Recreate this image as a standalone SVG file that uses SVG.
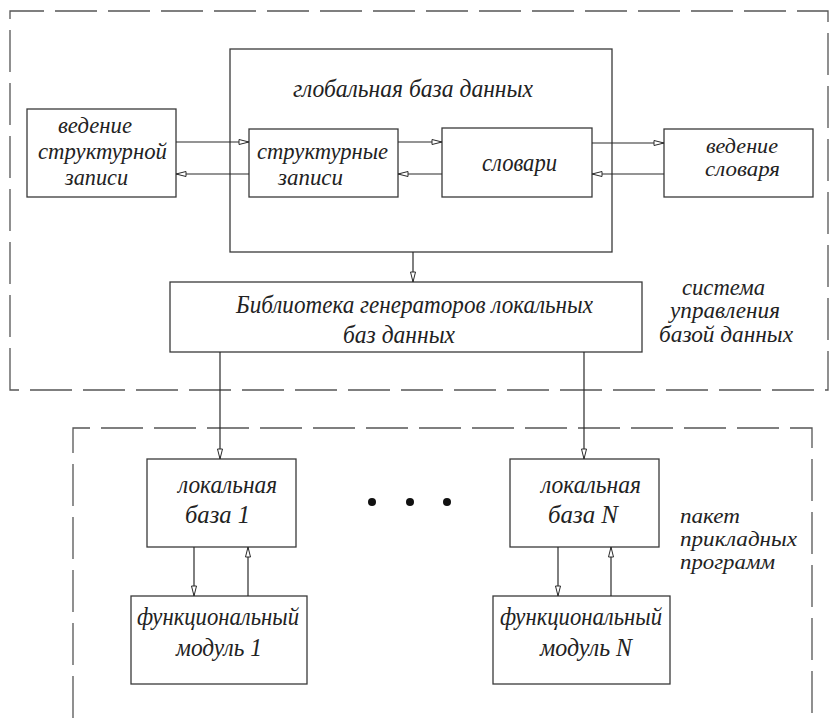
<svg xmlns="http://www.w3.org/2000/svg" width="831" height="718" viewBox="0 0 831 718">
<style>
.box{fill:none;stroke:#3a3a3a;stroke-width:1.3}
.dash{fill:none;stroke:#555;stroke-width:1.3;stroke-dasharray:42 11}
.ln{fill:none;stroke:#2a2a2a;stroke-width:1.2}
text{font-family:"Liberation Serif","DejaVu Serif",serif;font-style:italic;font-size:23px;fill:#222}
.lg{font-size:25px}
.sm{font-size:21px}
</style>
<defs>
<marker id="ah" markerUnits="userSpaceOnUse" markerWidth="14" markerHeight="10" refX="11" refY="5" orient="auto">
<path d="M1,2.5 L11,5 L1,7.5 Z" fill="#fff" stroke="#2a2a2a" stroke-width="1"/>
</marker>
</defs>
<rect width="831" height="718" fill="#fff"/>
<g id="frame-dbms">
<path class="dash" d="M10,390 L10,11 L828,11 L828,390 Z"/>
<text x="682" y="295" textLength="83" lengthAdjust="spacingAndGlyphs">система</text>
<text x="670" y="318" textLength="110" lengthAdjust="spacingAndGlyphs">управления</text>
<text x="659" y="342" textLength="134" lengthAdjust="spacingAndGlyphs">базой данных</text>
</g>
<g id="frame-apps">
<path class="dash" d="M73,718 L73,428 L812,428 L812,718"/>
<text class="sm" x="680" y="523" textLength="60" lengthAdjust="spacingAndGlyphs">пакет</text>
<text class="sm" x="680" y="546" textLength="117" lengthAdjust="spacingAndGlyphs">прикладных</text>
<text class="sm" x="680" y="569" textLength="95" lengthAdjust="spacingAndGlyphs">программ</text>
</g>
<g id="global-db">
<rect class="box" x="230" y="49" width="382" height="203"/>
<text class="lg" x="293" y="97" textLength="240" lengthAdjust="spacingAndGlyphs">глобальная база данных</text>
</g>
<g id="struct-maint">
<rect class="box" x="27" y="109" width="149" height="88"/>
<text x="58" y="133" textLength="74" lengthAdjust="spacingAndGlyphs">ведение</text>
<text x="38" y="159" textLength="129" lengthAdjust="spacingAndGlyphs">структурной</text>
<text x="65" y="185" textLength="63" lengthAdjust="spacingAndGlyphs">записи</text>
</g>
<g id="struct-records">
<rect class="box" x="249" y="129" width="149" height="68"/>
<text x="257" y="159" textLength="131" lengthAdjust="spacingAndGlyphs">структурные</text>
<text x="278" y="185" textLength="65" lengthAdjust="spacingAndGlyphs">записи</text>
</g>
<g id="dictionaries">
<rect class="box" x="442" y="128" width="150" height="69"/>
<text class="lg" x="482" y="171" textLength="75" lengthAdjust="spacingAndGlyphs">словари</text>
</g>
<g id="dict-maint">
<rect class="box" x="664" y="129" width="149" height="68"/>
<text class="sm" x="706" y="153" textLength="72" lengthAdjust="spacingAndGlyphs">ведение</text>
<text class="sm" x="705" y="176" textLength="75" lengthAdjust="spacingAndGlyphs">словаря</text>
</g>
<g id="library">
<rect class="box" x="170" y="282" width="472" height="70"/>
<text class="lg" x="236" y="313" textLength="357" lengthAdjust="spacingAndGlyphs">Библиотека генераторов локальных</text>
<text class="lg" x="343" y="343" textLength="112" lengthAdjust="spacingAndGlyphs">баз данных</text>
</g>
<g id="local-1">
<rect class="box" x="147" y="459" width="149" height="88"/>
<text class="lg" x="178" y="493" textLength="99" lengthAdjust="spacingAndGlyphs">локальная</text>
<text class="lg" x="185" y="523" textLength="65" lengthAdjust="spacingAndGlyphs">база 1</text>
</g>
<g id="func-1">
<rect class="box" x="131" y="596" width="176" height="88"/>
<text class="lg" x="137" y="625" textLength="162" lengthAdjust="spacingAndGlyphs">функциональный</text>
<text class="lg" x="176" y="656" textLength="86" lengthAdjust="spacingAndGlyphs">модуль 1</text>
</g>
<g id="local-n">
<rect class="box" x="510" y="459" width="149" height="88"/>
<text class="lg" x="541" y="493" textLength="100" lengthAdjust="spacingAndGlyphs">локальная</text>
<text class="lg" x="548" y="523" textLength="70" lengthAdjust="spacingAndGlyphs">база N</text>
</g>
<g id="func-n">
<rect class="box" x="493" y="596" width="177" height="88"/>
<text class="lg" x="500" y="625" textLength="162" lengthAdjust="spacingAndGlyphs">функциональный</text>
<text class="lg" x="540" y="656" textLength="92" lengthAdjust="spacingAndGlyphs">модуль N</text>
</g>
<g id="ellipsis" fill="#111">
<circle cx="372" cy="502" r="4"/>
<circle cx="410" cy="502" r="4"/>
<circle cx="447" cy="502" r="4"/>
</g>
<g id="connectors">
<line class="ln" x1="176" y1="142" x2="249" y2="142" marker-end="url(#ah)"/>
<line class="ln" x1="249" y1="174" x2="176" y2="174" marker-end="url(#ah)"/>
<line class="ln" x1="398" y1="142" x2="442" y2="142" marker-end="url(#ah)"/>
<line class="ln" x1="442" y1="174" x2="398" y2="174" marker-end="url(#ah)"/>
<line class="ln" x1="592" y1="143" x2="664" y2="143" marker-end="url(#ah)"/>
<line class="ln" x1="664" y1="174" x2="592" y2="174" marker-end="url(#ah)"/>
<line class="ln" x1="413" y1="252" x2="413" y2="282" marker-end="url(#ah)"/>
<line class="ln" x1="220" y1="352" x2="220" y2="459" marker-end="url(#ah)"/>
<line class="ln" x1="584" y1="352" x2="584" y2="459" marker-end="url(#ah)"/>
<line class="ln" x1="194" y1="547" x2="194" y2="596" marker-end="url(#ah)"/>
<line class="ln" x1="248" y1="596" x2="248" y2="547" marker-end="url(#ah)"/>
<line class="ln" x1="558" y1="547" x2="558" y2="596" marker-end="url(#ah)"/>
<line class="ln" x1="611" y1="596" x2="611" y2="547" marker-end="url(#ah)"/>
</g>
</svg>
